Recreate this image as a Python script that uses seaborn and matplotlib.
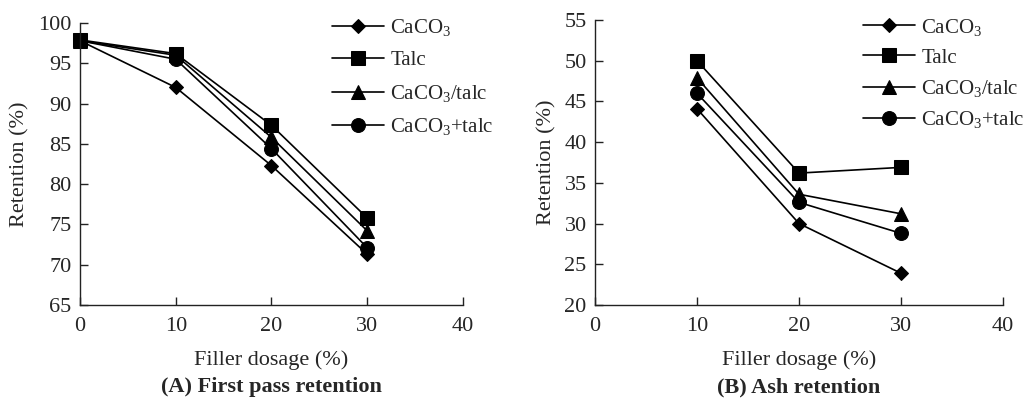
import numpy as np
import pandas as pd
import matplotlib
matplotlib.use("Agg")
import matplotlib.pyplot as plt
import seaborn as sns

FILLERS = ["CaCO$_3$", "Talc", "CaCO$_3$/talc", "CaCO$_3$+talc"]
MARKERS = ["D", "s", "^", "o"]
MSIZES = [7.5, 10.5, 9.5, 10]

# (A) First pass retention
dose_a = [0, 10, 20, 30]
fpr_caco3 = [97.8, 92.0, 82.3, 71.3]
fpr_talc = [97.9, 96.2, 87.3, 75.8]
fpr_mix = [97.8, 96.0, 85.8, 74.2]
fpr_plus = [97.8, 95.5, 84.4, 72.1]

# (B) Ash retention
dose_b = [10, 20, 30]
ash_caco3 = [44.1, 30.0, 23.9]
ash_talc = [50.0, 36.2, 36.9]
ash_mix = [47.9, 33.6, 31.2]
ash_plus = [46.0, 32.6, 28.8]


def make_frame(dose, series):
    rows = []
    for name, vals in zip(FILLERS, series):
        for d, v in zip(dose, vals):
            rows.append((name, d, v))
    return pd.DataFrame(rows, columns=["filler", "dose", "retention"])


sns.set_style("ticks")
plt.rcParams["font.family"] = ["Liberation Serif", "DejaVu Serif"]
plt.rcParams["mathtext.default"] = "regular"
plt.rcParams["xtick.direction"] = "in"
plt.rcParams["ytick.direction"] = "in"

fig = plt.figure(figsize=(10.35, 3.98), dpi=100)
ax_a = fig.add_axes([0.0773, 0.2337, 0.3700, 0.7085])
ax_b = fig.add_axes([0.5749, 0.2337, 0.3942, 0.7160])

panels = [
    (ax_a, make_frame(dose_a, [fpr_caco3, fpr_talc, fpr_mix, fpr_plus]),
     (65, 100), "(A) First pass retention", (0.658, 1.02), 0.6),
    (ax_b, make_frame(dose_b, [ash_caco3, ash_talc, ash_mix, ash_plus]),
     (20, 55), "(B) Ash retention", (0.657, 1.012), 0.5),
]

for ax, df, ylim, title, leg_pos, leg_space in panels:
    sns.lineplot(data=df, x="dose", y="retention", hue="filler", style="filler",
                 hue_order=FILLERS, style_order=FILLERS,
                 palette=["black"] * 4, markers=dict(zip(FILLERS, MARKERS)),
                 dashes=False, markeredgecolor="black",
                 linewidth=1.2, ax=ax, legend=True)
    # per-marker sizes (seaborn only takes one size)
    for ln, ms in zip(ax.lines, MSIZES):
        ln.set_markersize(ms)
        ln.set_clip_on(False)
    ax.set_xlim(0, 40)
    ax.set_ylim(*ylim)
    ax.set_xticks([0, 10, 20, 30, 40])
    ax.set_yticks(np.arange(ylim[0], ylim[1] + 1, 5))
    ax.tick_params(labelsize=16, length=6, width=1, color="#222222")
    ax.tick_params(axis="x", pad=9)
    ax.tick_params(axis="y", pad=6)
    for s in ["left", "bottom"]:
        ax.spines[s].set_linewidth(1)
        ax.spines[s].set_color("#222222")
    sns.despine(ax=ax)
    ax.set_xlabel("Filler dosage (%)", fontsize=16, labelpad=10)
    ax.set_ylabel("Retention (%)", fontsize=16, labelpad=6)
    ax.text(0.5, -0.255, title, transform=ax.transAxes, ha="center", va="top",
            fontsize=16, fontweight="bold")
    leg = ax.legend(loc="upper left", bbox_to_anchor=leg_pos, frameon=False,
                    fontsize=15, handlelength=2.5, handletextpad=0.3,
                    labelspacing=leg_space, borderaxespad=0, borderpad=0)
    for h, ms in zip(leg.legend_handles, MSIZES):
        h.set_markersize(ms)

fig.savefig("out.png", dpi=100)
